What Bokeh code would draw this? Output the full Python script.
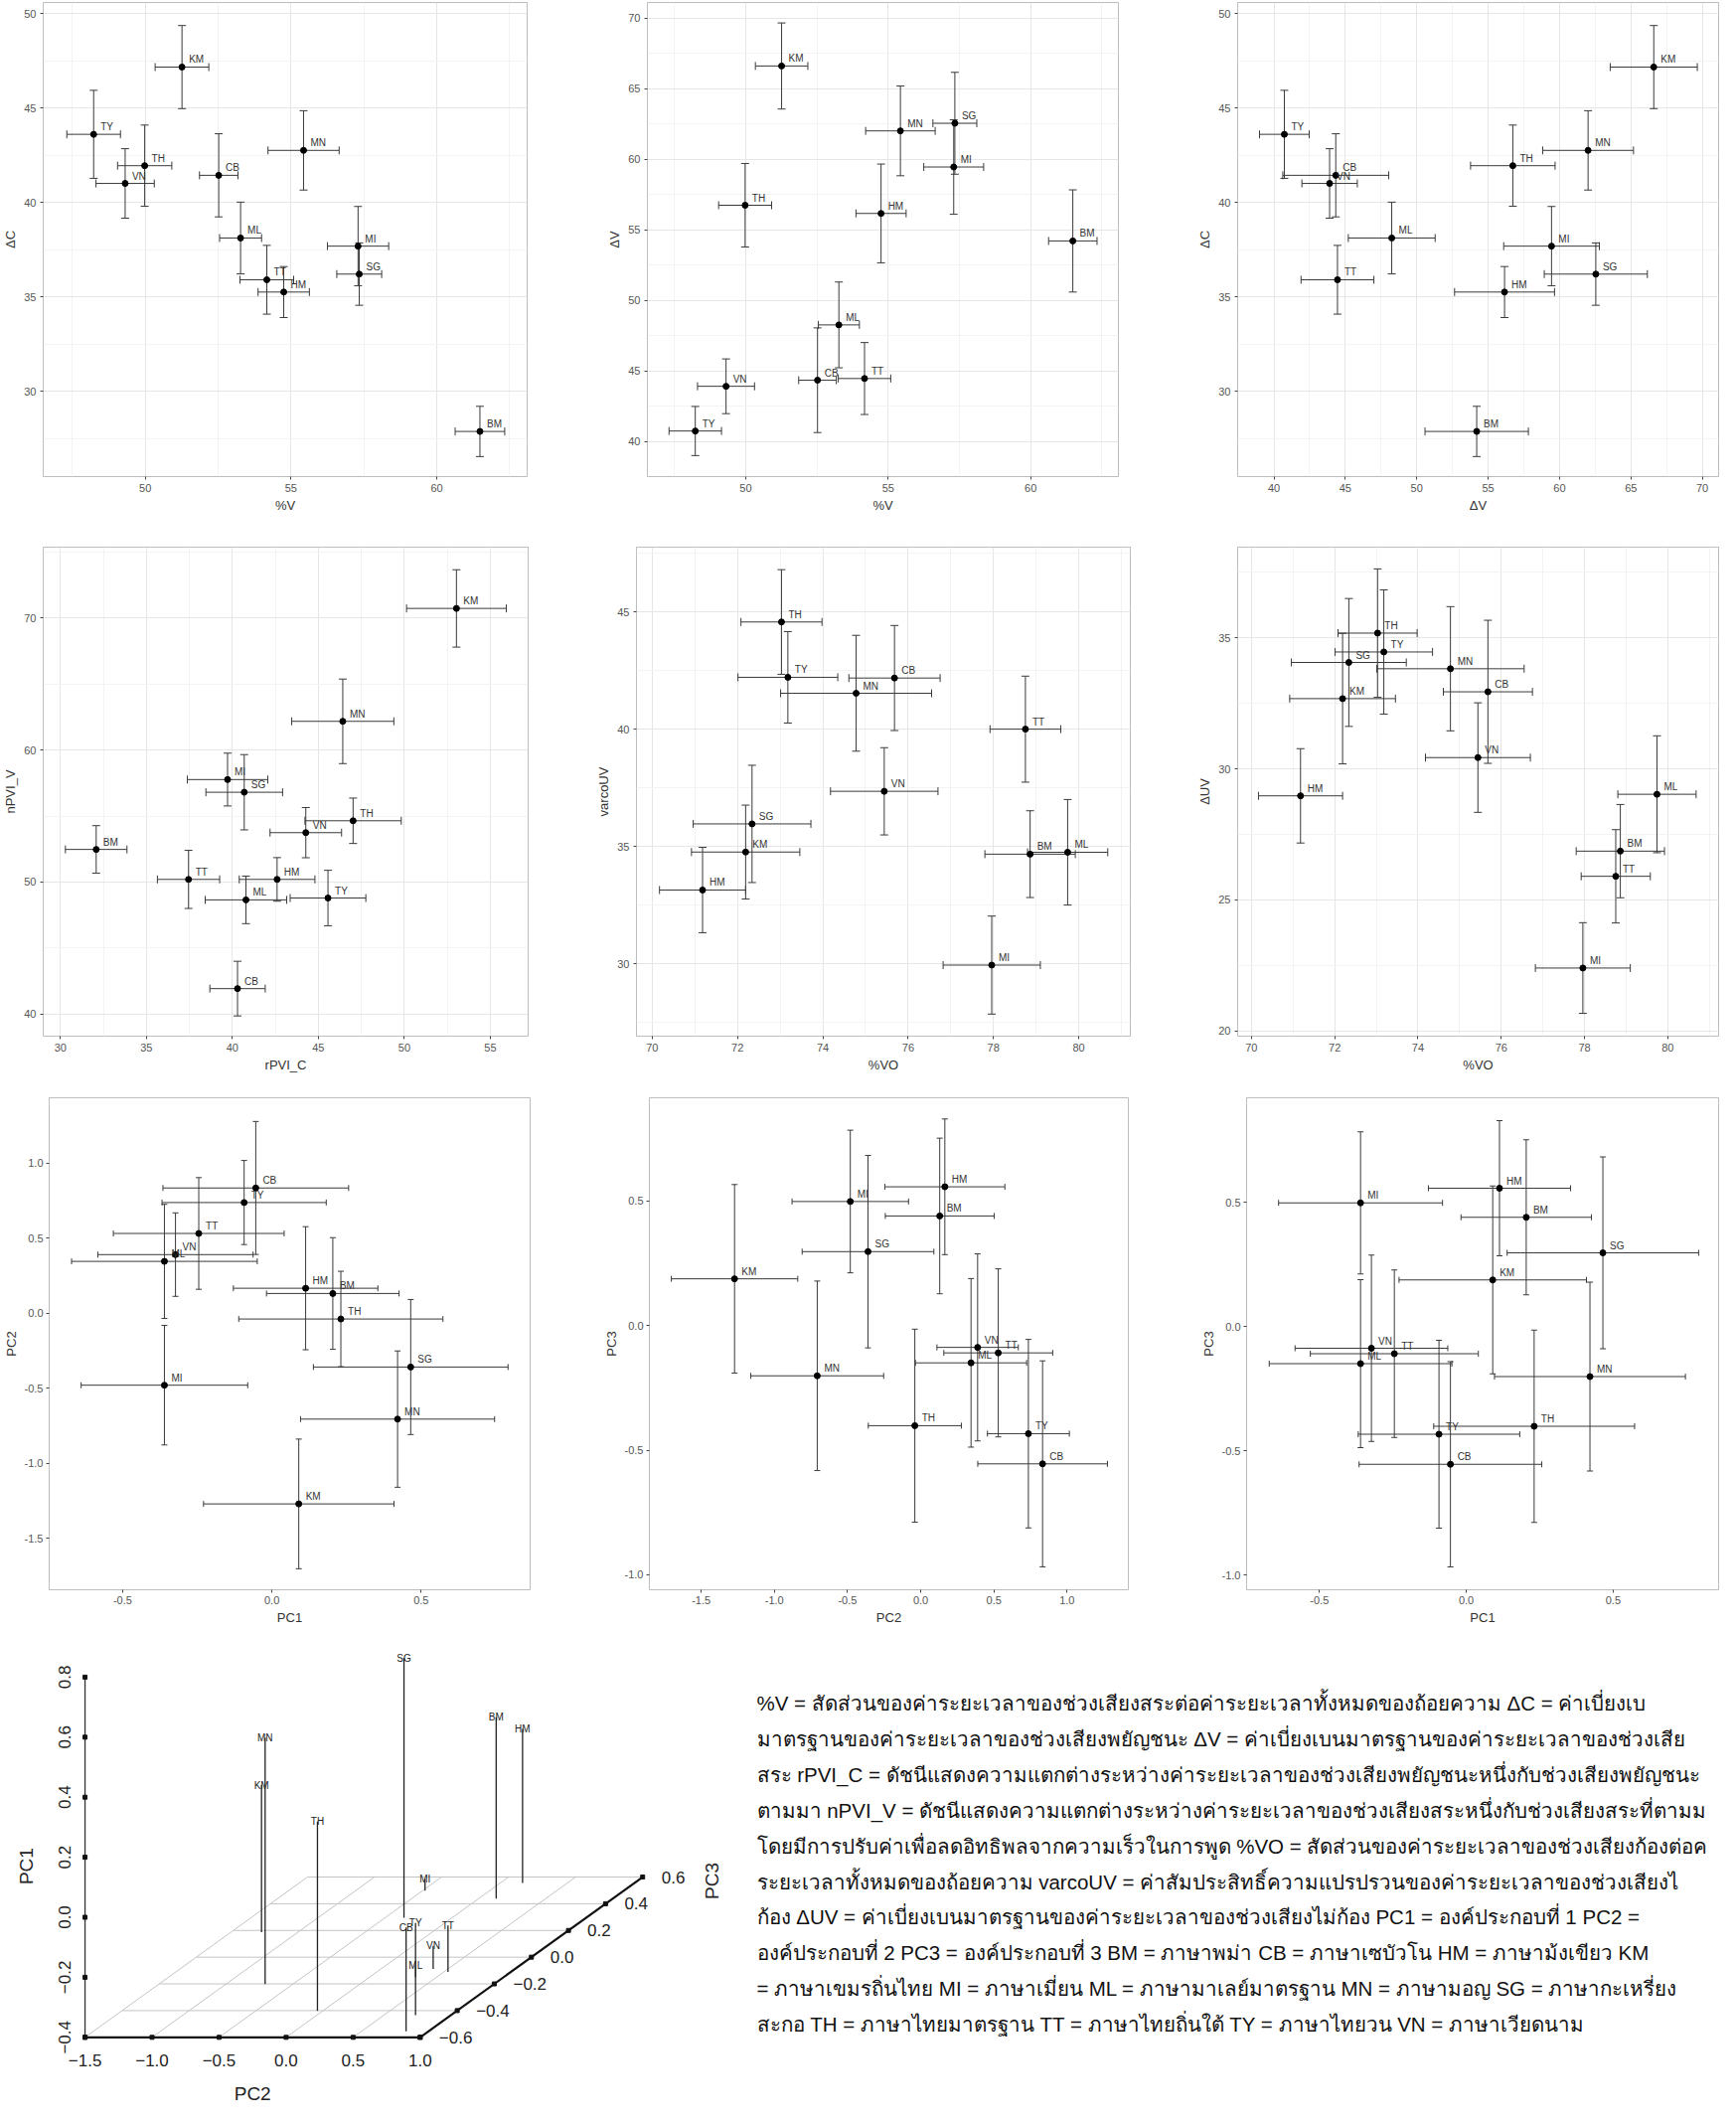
import numpy as np
from bokeh.plotting import figure
from bokeh.models import (ColumnDataSource, Whisker, TeeHead, Range1d, FixedTicker,
                          NumeralTickFormatter)
from bokeh.layouts import row, column
from bokeh.embed import file_html
from bokeh.resources import INLINE
from bokeh.core.properties import value

FONT = "Liberation Sans"
THAI_FONT = "'Liberation Sans Narrow', 'Liberation Sans', sans-serif"

# ---------------- data (mean and half-width of error bar) ----------------
languages = ["BM", "CB", "HM", "KM", "MI", "ML", "MN", "SG", "TH", "TT", "TY", "VN"]

pct_v      = [61.48, 52.52, 54.75, 51.26, 57.30, 53.27, 55.43, 57.34, 49.98, 54.17, 48.23, 49.31]
pct_v_err  = [0.85, 0.66, 0.88, 0.92, 1.05, 0.72, 1.22, 0.77, 0.93, 0.92, 0.92, 1.00]

delta_c     = [27.89, 41.45, 35.27, 47.18, 37.70, 38.13, 42.77, 36.22, 41.96, 35.92, 43.62, 41.02]
delta_c_err = [1.33, 2.20, 1.35, 2.20, 2.10, 1.90, 2.10, 1.65, 2.15, 1.82, 2.33, 1.84]

delta_v     = [54.20, 44.33, 56.15, 66.60, 59.44, 48.25, 62.00, 62.54, 56.73, 44.45, 40.73, 43.90]
delta_v_err = [3.62, 3.71, 3.50, 3.05, 3.35, 3.04, 3.18, 3.61, 2.96, 2.55, 1.74, 1.94]

rpvi_c     = [32.08, 40.30, 42.60, 53.03, 39.72, 40.79, 46.42, 40.69, 47.02, 37.45, 45.56, 44.27]
rpvi_c_err = [1.79, 1.61, 2.20, 2.90, 2.34, 2.37, 2.97, 2.23, 2.80, 1.81, 2.20, 2.08]

npvi_v     = [52.47, 41.93, 50.20, 70.72, 57.76, 48.65, 62.17, 56.80, 54.64, 50.20, 48.79, 53.74]
npvi_v_err = [1.80, 2.07, 1.65, 2.93, 2.00, 1.80, 3.20, 2.85, 1.72, 2.20, 2.10, 1.90]

pct_vo     = [78.86, 75.68, 71.18, 72.19, 77.96, 79.74, 74.78, 72.34, 73.03, 78.75, 73.18, 75.44]
pct_vo_err = [1.06, 1.07, 1.01, 1.27, 1.14, 0.94, 1.77, 1.38, 0.95, 0.83, 1.17, 1.26]

varco_uv     = [34.67, 42.18, 33.14, 34.76, 29.94, 34.75, 41.53, 35.96, 44.57, 40.00, 42.21, 37.35]
varco_uv_err = [1.85, 2.24, 1.82, 2.00, 2.09, 2.25, 2.47, 2.50, 2.23, 2.26, 1.95, 1.86]

delta_uv     = [26.86, 32.94, 28.97, 32.68, 22.40, 29.03, 33.82, 34.06, 35.18, 25.90, 34.46, 30.43]
delta_uv_err = [1.78, 2.73, 1.80, 2.49, 1.73, 2.23, 2.37, 2.44, 2.45, 1.78, 2.37, 2.09]

pc1     = [0.204, -0.054, 0.113, 0.090, -0.360, -0.360, 0.421, 0.465, 0.231, -0.245, -0.093, -0.323]
pc1_err = [0.222, 0.311, 0.242, 0.319, 0.279, 0.311, 0.325, 0.326, 0.342, 0.286, 0.275, 0.260]

pc2     = [0.130, 0.833, 0.165, -1.272, -0.481, 0.344, -0.707, -0.360, -0.040, 0.530, 0.736, 0.389]
pc2_err = [0.372, 0.443, 0.410, 0.432, 0.398, 0.380, 0.454, 0.450, 0.318, 0.372, 0.280, 0.278]

pc3     = [0.439, -0.555, 0.556, 0.187, 0.497, -0.150, -0.202, 0.296, -0.402, -0.110, -0.434, -0.088]
pc3_err = [0.312, 0.413, 0.272, 0.378, 0.286, 0.338, 0.380, 0.386, 0.387, 0.337, 0.378, 0.375]

note_lines = [
    "%V  =  สัดส่วนของค่าระยะเวลาของช่วงเสียงสระต่อค่าระยะเวลาทั้งหมดของถ้อยความ   ΔC = ค่าเบี่ยงเบ",
    "มาตรฐานของค่าระยะเวลาของช่วงเสียงพยัญชนะ  ΔV = ค่าเบี่ยงเบนมาตรฐานของค่าระยะเวลาของช่วงเสีย",
    "สระ rPVI_C = ดัชนีแสดงความแตกต่างระหว่างค่าระยะเวลาของช่วงเสียงพยัญชนะหนึ่งกับช่วงเสียงพยัญชนะ",
    "ตามมา  nPVI_V = ดัชนีแสดงความแตกต่างระหว่างค่าระยะเวลาของช่วงเสียงสระหนึ่งกับช่วงเสียงสระที่ตามม",
    "โดยมีการปรับค่าเพื่อลดอิทธิพลจากความเร็วในการพูด  %VO = สัดส่วนของค่าระยะเวลาของช่วงเสียงก้องต่อค",
    "ระยะเวลาทั้งหมดของถ้อยความ  varcoUV = ค่าสัมประสิทธิ์ความแปรปรวนของค่าระยะเวลาของช่วงเสียงไ",
    "ก้อง  ΔUV = ค่าเบี่ยงเบนมาตรฐานของค่าระยะเวลาของช่วงเสียงไม่ก้อง  PC1 = องค์ประกอบที่ 1  PC2 =",
    "องค์ประกอบที่ 2  PC3 = องค์ประกอบที่ 3  BM = ภาษาพม่า  CB = ภาษาเซบัวโน  HM = ภาษาม้งเขียว  KM",
    "= ภาษาเขมรถิ่นไทย  MI = ภาษาเมี่ยน  ML = ภาษามาเลย์มาตรฐาน  MN = ภาษามอญ  SG = ภาษากะเหรี่ยง",
    "สะกอ  TH = ภาษาไทยมาตรฐาน  TT = ภาษาไทยถิ่นใต้  TY = ภาษาไทยวน  VN = ภาษาเวียดนาม",
]

# ---------------- helpers ----------------
def frange(a, b, s):
    return [round(v, 4) for v in np.arange(a, b + s / 2, s)]


def scatter_panel(xv, xe, yv, ye, xr, yr, xt, xm, yt, ym, xlabel, ylabel,
                  w, h, bl, br, bt, bb, grid=True, pc_fmt=False, cap=8):
    x, xe_, y, ye_ = map(np.asarray, (xv, xe, yv, ye))
    src = ColumnDataSource(dict(x=x, y=y, xl=x - xe_, xu=x + xe_, yl=y - ye_, yu=y + ye_,
                                lab=languages))
    p = figure(width=w, height=h, x_range=Range1d(*xr), y_range=Range1d(*yr),
               output_backend="svg", toolbar_location=None,
               min_border_left=bl, min_border_right=br, min_border_top=bt, min_border_bottom=bb)
    p.outline_line_color = "#bdbdbd"
    p.outline_line_width = 1
    p.background_fill_color = "white"
    p.border_fill_color = "white"
    p.xaxis.ticker = FixedTicker(ticks=xt, minor_ticks=xm)
    p.yaxis.ticker = FixedTicker(ticks=yt, minor_ticks=ym)
    for ax in list(p.xaxis) + list(p.yaxis):
        ax.axis_line_color = None
        ax.major_tick_line_color = "#444444"
        ax.major_tick_in = 0
        ax.major_tick_out = 3
        ax.minor_tick_line_color = None
        ax.major_label_text_font = FONT
        ax.major_label_text_font_size = "11px"
        ax.major_label_text_color = "#555555"
        ax.major_label_standoff = 3
        ax.axis_label_text_font = FONT
        ax.axis_label_text_font_size = "13px"
        ax.axis_label_text_font_style = "normal"
        ax.axis_label_text_color = "#333333"
        ax.axis_label_standoff = 3
        if pc_fmt:
            ax.formatter = NumeralTickFormatter(format="0.0")
    p.xaxis.axis_label = xlabel
    p.yaxis.axis_label = ylabel
    if grid:
        p.grid.grid_line_color = "#e6e6e6"
        p.grid.minor_grid_line_color = "#f3f3f3"
    else:
        p.grid.grid_line_color = None
    ecol = "#3a3a3a"
    for base, lo, up, dim in (("y", "xl", "xu", "width"), ("x", "yl", "yu", "height")):
        p.add_layout(Whisker(source=src, base=base, lower=lo, upper=up, dimension=dim,
                             line_color=ecol, line_width=1,
                             upper_head=TeeHead(size=cap, line_color=ecol, line_width=1),
                             lower_head=TeeHead(size=cap, line_color=ecol, line_width=1)))
    p.scatter("x", "y", source=src, size=6, color="black")
    p.text("x", "y", text="lab", source=src, x_offset=7, y_offset=-2,
           text_font=value(FONT), text_font_size="10px", text_baseline="bottom",
           text_color="#333333")
    return p


# ---------------- row 1 (height 532) ----------------
p1 = scatter_panel(pct_v, pct_v_err, delta_c, delta_c_err, (46.5, 63.1), (25.5, 50.6),
                   [50, 55, 60], frange(47.5, 62.5, 5), [30, 35, 40, 45, 50], frange(27.5, 47.5, 5),
                   "%V", "ΔC", 592, 532, 41, 62, 2, 38)
p2 = scatter_panel(pct_v, pct_v_err, delta_v, delta_v_err, (46.55, 63.08), (37.5, 71.1),
                   [50, 55, 60], frange(47.5, 62.5, 5), [40, 45, 50, 55, 60, 65, 70],
                   frange(37.5, 67.5, 5), "%V", "ΔV", 590, 532, 59, 57, 2, 53)
p3 = scatter_panel(delta_v, delta_v_err, delta_c, delta_c_err, (37.46, 71.14), (25.5, 50.6),
                   [40, 45, 50, 55, 60, 65, 70], frange(42.5, 67.5, 5), [30, 35, 40, 45, 50],
                   frange(27.5, 47.5, 5), "ΔV", "ΔC", 549, 532, 63, 2, 2, 38)

# ---------------- row 2 (height 555) ----------------
p4 = scatter_panel(rpvi_c, rpvi_c_err, npvi_v, npvi_v_err, (29.0, 57.2), (38.33, 75.36),
                   [30, 35, 40, 45, 50, 55], frange(32.5, 57.5, 5), [40, 50, 60, 70],
                   [45, 55, 65, 75], "rPVI_C", "nPVI_V", 592, 555, 36, 61, 18, 41)
p5 = scatter_panel(pct_vo, pct_vo_err, varco_uv, varco_uv_err, (69.63, 81.21), (26.91, 47.76),
                   [70, 72, 74, 76, 78, 80], [71, 73, 75, 77, 79, 81], [30, 35, 40, 45],
                   [27.5, 32.5, 37.5, 42.5, 47.5], "%VO", "varcoUV", 590, 555, 48, 45, 18, 40)
p6 = scatter_panel(pct_vo, pct_vo_err, delta_uv, delta_uv_err, (69.67, 81.22), (19.8, 38.46),
                   [70, 72, 74, 76, 78, 80], [71, 73, 75, 77, 79, 81], [20, 25, 30, 35],
                   [22.5, 27.5, 32.5, 37.5], "%VO", "ΔUV", 549, 555, 63, 2, 18, 45)

# ---------------- row 3 (height 550) ----------------
p7 = scatter_panel(pc1, pc1_err, pc2, pc2_err, (-0.746, 0.865), (-1.844, 1.434),
                   [-0.5, 0.0, 0.5], [], frange(-1.5, 1.0, 0.5), [],
                   "PC1", "PC2", 592, 550, 48, 59, 17, 37, grid=False, pc_fmt=True, cap=6)
p8 = scatter_panel(pc2, pc2_err, pc3, pc3_err, (-1.854, 1.419), (-1.06, 0.913),
                   frange(-1.5, 1.0, 0.5), [], frange(-1.0, 0.5, 0.5), [],
                   "PC2", "PC3", 590, 550, 61, 47, 17, 38, grid=False, pc_fmt=True, cap=6)
p9 = scatter_panel(pc1, pc1_err, pc3, pc3_err, (-0.748, 0.859), (-1.06, 0.92),
                   [-0.5, 0.0, 0.5], [], frange(-1.0, 0.5, 0.5), [],
                   "PC1", "PC3", 549, 550, 72, 2, 17, 37, grid=False, pc_fmt=True, cap=6)

# ---------------- row 4: 3-D projection (PC2, PC3 on the floor, PC1 up) ----------------
pc2_ticks = [-1.5, -1.0, -0.5, 0.0, 0.5, 1.0]
pc3_ticks = [-0.6, -0.4, -0.2, 0.0, 0.2, 0.4, 0.6]
pc1_ticks = [-0.4, -0.2, 0.0, 0.2, 0.4, 0.6, 0.8]

S2, S3X, S3Y, S1 = 134.9, 186.6, 134.4, 302.0


def proj(a2, a3, a1):
    a2, a3, a1 = (np.asarray(a, dtype=float) for a in (a2, a3, a1))
    u = (a2 - pc2_ticks[0]) * S2 + (a3 - pc3_ticks[0]) * S3X
    v = (a3 - pc3_ticks[0]) * S3Y + (a1 - pc1_ticks[0]) * S1
    return u, v


p10 = figure(width=740, height=483, x_range=Range1d(-85.06, 654.94), y_range=Range1d(-70.7, 412.3),
             output_backend="svg", toolbar_location=None, min_border=0)
p10.axis.visible = False
p10.grid.visible = False
p10.outline_line_color = None
p10.background_fill_color = "white"
p10.border_fill_color = "white"

z0 = pc1_ticks[0]
gxs, gys = [], []
for t3 in pc3_ticks[1:]:
    u, v = proj([pc2_ticks[0], pc2_ticks[-1]], [t3, t3], [z0, z0])
    gxs.append(list(u)); gys.append(list(v))
for t2 in pc2_ticks[:-1]:
    u, v = proj([t2, t2], [pc3_ticks[0], pc3_ticks[-1]], [z0, z0])
    gxs.append(list(u)); gys.append(list(v))
p10.multi_line(gxs, gys, line_color="#c4c4c4", line_width=1)

# axes
ua, va = proj([pc2_ticks[0], pc2_ticks[-1]], [pc3_ticks[0]] * 2, [z0, z0])
p10.line(ua, va, line_color="#111111", line_width=2.2)
ub, vb = proj([pc2_ticks[-1]] * 2, [pc3_ticks[0], pc3_ticks[-1]], [z0, z0])
p10.line(ub, vb, line_color="#111111", line_width=2.2)
uc, vc = proj([pc2_ticks[0]] * 2, [pc3_ticks[0]] * 2, [pc1_ticks[0], pc1_ticks[-1]])
p10.line(uc, vc, line_color="#333333", line_width=1.3)

tu2, tv2 = proj(pc2_ticks, [pc3_ticks[0]] * len(pc2_ticks), [z0] * len(pc2_ticks))
tu3, tv3 = proj([pc2_ticks[-1]] * len(pc3_ticks), pc3_ticks, [z0] * len(pc3_ticks))
tu1, tv1 = proj([pc2_ticks[0]] * len(pc1_ticks), [pc3_ticks[0]] * len(pc1_ticks), pc1_ticks)
for tu, tv in ((tu2, tv2), (tu3, tv3), (tu1, tv1)):
    p10.scatter(tu, tv, marker="square", size=4, color="#111111")


def fmt(t):
    return f"{t:.1f}".replace("-", "\u2212")


TF = value(FONT)
p10.text(tu2, tv2, text=[fmt(t) for t in pc2_ticks], y_offset=23, text_align="center",
         text_baseline="middle", text_font=TF, text_font_size="17px", text_color="#222222")
p10.text(tu3, tv3, text=[fmt(t) for t in pc3_ticks], x_offset=19, text_align="left",
         text_baseline="middle", text_font=TF, text_font_size="17px", text_color="#222222")
p10.text(tu1, tv1, text=[fmt(t) for t in pc1_ticks], x_offset=-21, angle=np.pi / 2,
         text_align="center", text_baseline="middle", text_font=TF, text_font_size="17px",
         text_color="#222222")
p10.text([tu2.mean()], [tv2[0]], text=["PC2"], y_offset=57, text_align="center",
         text_baseline="middle", text_font=TF, text_font_size="19px", text_color="#222222")
p10.text([tu1[0]], [tv1.mean()], text=["PC1"], x_offset=-59, y_offset=9, angle=np.pi / 2,
         text_align="center", text_baseline="middle", text_font=TF, text_font_size="19px",
         text_color="#222222")
p10.text([tu3[-1]], [tv3[-1]], text=["PC3"], x_offset=70, y_offset=4, angle=np.pi / 2,
         text_align="center", text_baseline="middle", text_font=TF, text_font_size="19px",
         text_color="#222222")

bu, bv = proj(pc2, pc3, [z0] * len(languages))
top_u, top_v = proj(pc2, pc3, pc1)
p10.segment(bu, bv, top_u, top_v, line_color="#222222", line_width=1.3)
p10.text(top_u, top_v, text=languages, text_align="center", text_baseline="middle",
         text_font=TF, text_font_size="10px", text_color="#222222")

# ---------------- row 4: notes ----------------
p11 = figure(width=991, height=483, x_range=Range1d(748, 1739), y_range=Range1d(2128, 1645),
             output_backend="svg", toolbar_location=None, min_border=0)
p11.axis.visible = False
p11.grid.visible = False
p11.outline_line_color = None
p11.background_fill_color = "white"
p11.border_fill_color = "white"
ly = [1721 + 35.9 * i for i in range(len(note_lines))]
p11.text([769] * len(note_lines), ly, text=note_lines, text_align="left", text_baseline="middle",
         text_font=value(THAI_FONT), text_font_size="20.5px", text_color="#111111")

layout = column(row(p1, p2, p3), row(p4, p5, p6), row(p7, p8, p9), row(p10, p11))
open("out.html", "w").write(file_html(layout, INLINE))
